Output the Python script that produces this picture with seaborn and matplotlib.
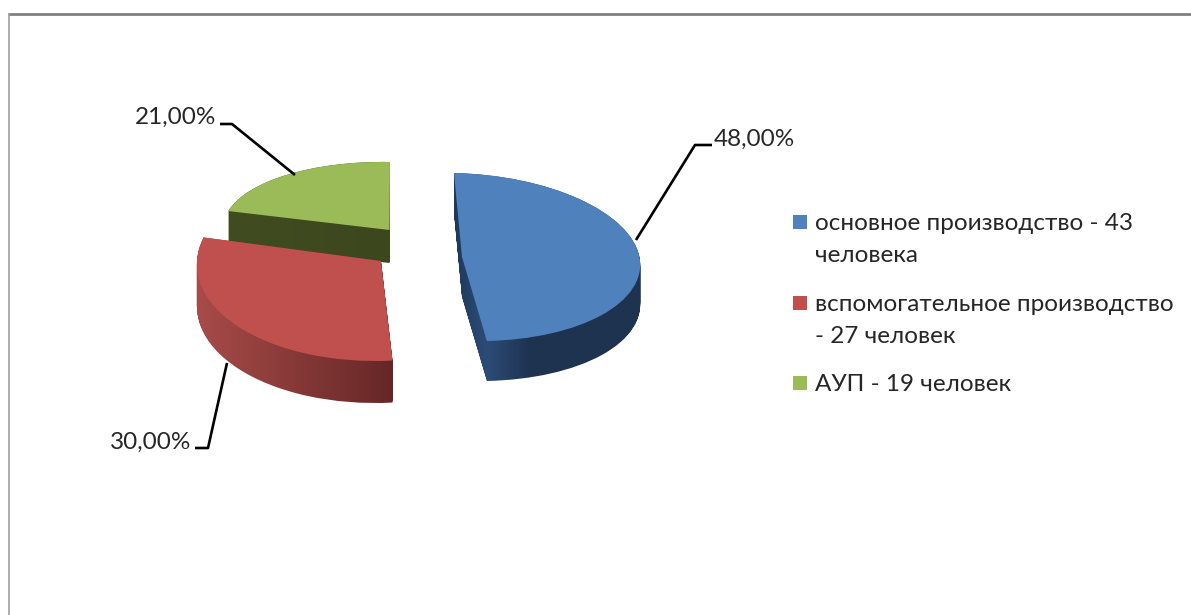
import numpy as np
import matplotlib
matplotlib.use("Agg")
import matplotlib.pyplot as plt
import seaborn as sns
from matplotlib.colors import LinearSegmentedColormap
from matplotlib.path import Path
from matplotlib.transforms import Affine2D

# data
categories = ["основное производство - 43\nчеловека",
              "вспомогательное производство\n- 27 человек",
              "АУП - 19 человек"]
shares = [48, 30, 21]
top_colors = ["#4f81bd", "#c0504d", "#9bbb59"]
# shading of the side walls, left to right
wall_colors = [[(0, "#1f3858"), (0.17, "#2c4c78"), (0.4, "#1e3350"), (1, "#1e3350")],
               [(0, "#a84c49"), (1, "#652726")],
               [(0, "#414c20"), (1, "#3d471e")]]

sns.set_theme(style="white")
plt.rcParams["font.family"] = ["Lato", "Open Sans"]

W, H = 1191, 615
fig = plt.figure(figsize=(W / 100, H / 100), dpi=100, facecolor="white")
ax = fig.add_axes([0, 0, 1, 1])

wedges, _ = ax.pie(shares, startangle=90, counterclock=False,
                   colors=sns.color_palette(top_colors))

# each slice: (x of apex, y of apex, rx, shear x, shear y, ry, depth), in pixels
placement = [(462, 257, 178, -8, 4, 84, 40),
             (381, 261, 184, 6, 0, 100, 42),
             (389.5, 230, 166, 0.5, 3, 68, 33)]
# back to front
order = [2, 1, 0]

for z, i in enumerate(order):
    cx, cy, rx, sx, sy, ry, depth = placement[i]
    face = Affine2D.from_values(rx, sy, sx, -ry, cx, cy)
    unit = wedges[i].get_path()

    layers = [(face + Affine2D().translate(0, d)).transform_path(unit)
              for d in range(0, depth + 1)]
    wall = Path.make_compound_path(*layers)
    x0, y0 = wall.vertices.min(axis=0)
    x1, y1 = wall.vertices.max(axis=0)
    cmap = LinearSegmentedColormap.from_list("wall", wall_colors[i])
    im = ax.imshow(np.linspace(0, 1, 256)[None, :], cmap=cmap, aspect="auto",
                   extent=(x0, x1, y1, y0), zorder=2 * z + 1, interpolation="bilinear")
    im.set_clip_path(wall, ax.transData)

    wedges[i].set_transform(face + ax.transData)
    wedges[i].set_zorder(2 * z + 2)
    wedges[i].set_linewidth(0)

# leader lines with their labels
leaders = [([712, 695, 636], [145, 145, 240], 714, 139.5, "left"),
           ([195, 208, 227], [448, 448, 363], 191, 442.5, "right"),
           ([220, 232, 295], [124, 124, 175], 216, 117.5, "right")]
for (xs, ys, tx, ty, ha), v in zip(leaders, shares):
    ax.plot(xs, ys, color="#000000", lw=1.9, zorder=10, solid_capstyle="butt")
    ax.text(tx, ty, f"{v:.2f}%".replace(".", ","), ha=ha, va="center",
            fontsize=17.5, color="#262626", zorder=11)

# legend
legend_y = [222, 303, 383]
for label, color, y in zip(categories, top_colors, legend_y):
    ax.scatter([800], [y], marker="s", s=95, color=color, linewidths=0, zorder=10)
    for n, line in enumerate(label.split("\n")):
        ax.text(815, y + 1.5 + n * 32, line, ha="left", va="center",
                fontsize=17.5, color="#262626", zorder=11)

# frame of the screenshot
ax.plot([8, W], [13.5, 13.5], color="#808080", lw=2, solid_capstyle="butt", zorder=12)
ax.plot([8.5, 8.5], [13, H], color="#a0a0a0", lw=1.2, solid_capstyle="butt", zorder=12)

ax.set_aspect("auto")
ax.set_xlim(0, W)
ax.set_ylim(H, 0)
ax.axis("off")

fig.savefig("out.png", dpi=100, facecolor="white")
